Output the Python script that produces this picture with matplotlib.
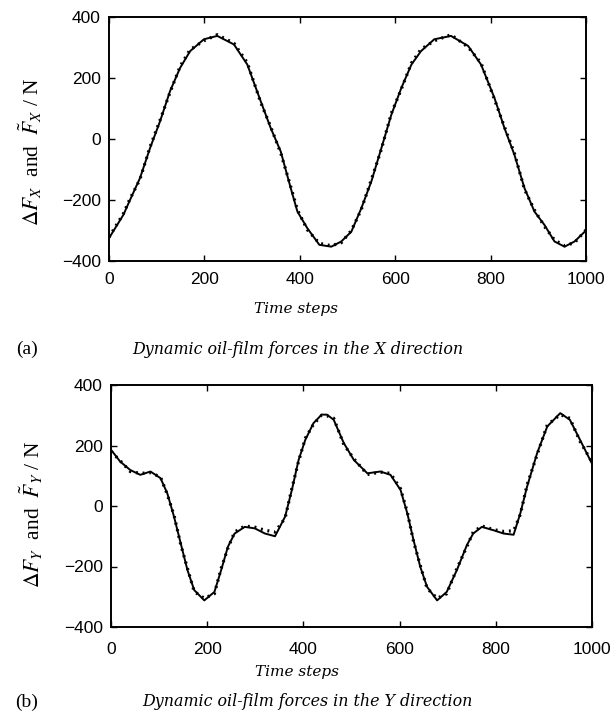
import numpy as np
import matplotlib
matplotlib.use('Agg')
import matplotlib.pyplot as plt

# panel (a): dynamic oil-film force in X direction
tx= [0, 30, 44, 65, 86, 107, 128, 149, 170, 199, 227, 262, 290, 318, 339, 360, 381, 395,
     416, 441, 466, 487, 508, 529, 550, 571, 592, 613, 634, 654, 682, 717, 753, 780,
     808, 829, 850, 871, 892, 913, 934, 955, 976, 1000]
fx= [-325, -249, -200, -128, -30, 58, 157, 233, 288, 327, 338, 310, 244, 124, 36, -41, -161, -238,
     -293, -347, -353, -336, -304, -227, -139, -30, 80, 168, 244, 288, 327, 338, 305, 244,
     135, 36, -52, -161, -238, -282, -336, -353, -336, -300]
fx_hat= [-322, -245, -196, -132, -26, 62, 153, 238, 293, 322, 342, 314, 250, 120, 40, -46, -156, -232,
         -298, -342, -350, -340, -300, -231, -133, -34, 85, 164, 249, 294, 322, 342, 301, 249,
         130, 40, -47, -165, -233, -287, -331, -350, -340, -298]

# panel (b): dynamic oil-film force in Y direction
ty= [0, 19, 40, 61, 82, 103, 117, 131, 145, 159, 173, 194, 215, 229, 243, 257, 278, 299,
     320, 341, 362, 376, 390, 404, 421, 438, 449, 463, 484, 505, 533, 560, 581, 602,
     616, 629, 643, 657, 678, 698, 719, 740, 753, 771, 795, 816, 837, 851, 865, 886,
     907, 934, 954, 975, 1000]
fy= [186, 147, 119, 103, 114, 92, 42, -35, -124, -212, -278, -312, -284, -212, -135, -91, -69, -74,
     -91, -100, -35, 53, 152, 219, 274, 302, 302, 285, 208, 152, 108, 114, 103, 53,
     -24, -113, -201, -267, -312, -284, -212, -129, -91, -69, -80, -91, -95, -24, 64, 175,
     263, 307, 285, 219, 140]
fy_hat= [180, 150, 114, 108, 110, 96, 38, -30, -128, -206, -283, -305, -290, -206, -140, -86, -66, -70,
         -80, -86, -40, 58, 148, 224, 270, 300, 298, 290, 203, 156, 104, 112, 108, 57,
         -20, -118, -196, -272, -305, -290, -207, -134, -86, -66, -78, -84, -82, -28, 70, 170,
         268, 302, 290, 214, 145]

plt.rcParams['font.family']= 'Liberation Sans'
plt.rcParams['mathtext.fontset']= 'stix'

fig= plt.figure(figsize=(6.14, 7.23), dpi=100)
ax1= fig.add_axes([109/614, 1-261/723, 477/614, 244/723])
ax2= fig.add_axes([111/614, 1-627/723, 481/614, 242/723])

panels= [(ax1, tx, fx, fx_hat, r'$\Delta F_X$  and  $\tilde{F}_X$ / N', 0.392, -48/244, 0.449, 8),
         (ax2, ty, fy, fy_hat, r'$\Delta F_Y$  and  $\tilde{F}_Y$ / N', 0.387, -45/242, 0.463, 11)]

for ax, t, f, fh, ylab, xlx, xly, yly, xpad in panels:
    ax.plot(t, f, color='k', lw=1.4)
    ax.plot(t, fh, color='k', lw=2.3, ls=(0, (0.6, 1.5)))
    ax.set_xlim(0, 1000)
    ax.set_ylim(-400, 400)
    ax.set_xticks([0, 200, 400, 600, 800, 1000])
    ax.set_yticks([-400, -200, 0, 200, 400])
    ax.tick_params(direction='in', top=True, right=True, length=4, width=1, labelsize=12.5)
    ax.tick_params(axis='x', pad=xpad)
    ax.tick_params(axis='y', pad=6)
    for s in ax.spines.values():
        s.set_linewidth(1.4)
    ax.set_xlabel('Time steps', family='DejaVu Serif', style='italic', fontsize=11)
    ax.xaxis.set_label_coords(xlx, xly)
    ax.xaxis.label.set_va('center')
    ax.set_ylabel(ylab, family='Liberation Serif', fontsize=15.5)
    ax.yaxis.set_label_coords(-79/477, yly)
    ax.yaxis.label.set_va('center')

fig.text(16/614, 1-349/723, '(a)', family='Liberation Serif', fontsize=14, va='center')
fig.text(298/614, 1-349/723, 'Dynamic oil-film forces in the X direction',
         family='DejaVu Serif', style='italic', fontsize=11.4, ha='center', va='center')
fig.text(15/614, 1-702/723, '(b)', family='Liberation Serif', fontsize=14, va='center')
fig.text(307/614, 1-702/723, 'Dynamic oil-film forces in the Y direction',
         family='DejaVu Serif', style='italic', fontsize=11.4, ha='center', va='center')

fig.savefig('out.png', dpi=100)
